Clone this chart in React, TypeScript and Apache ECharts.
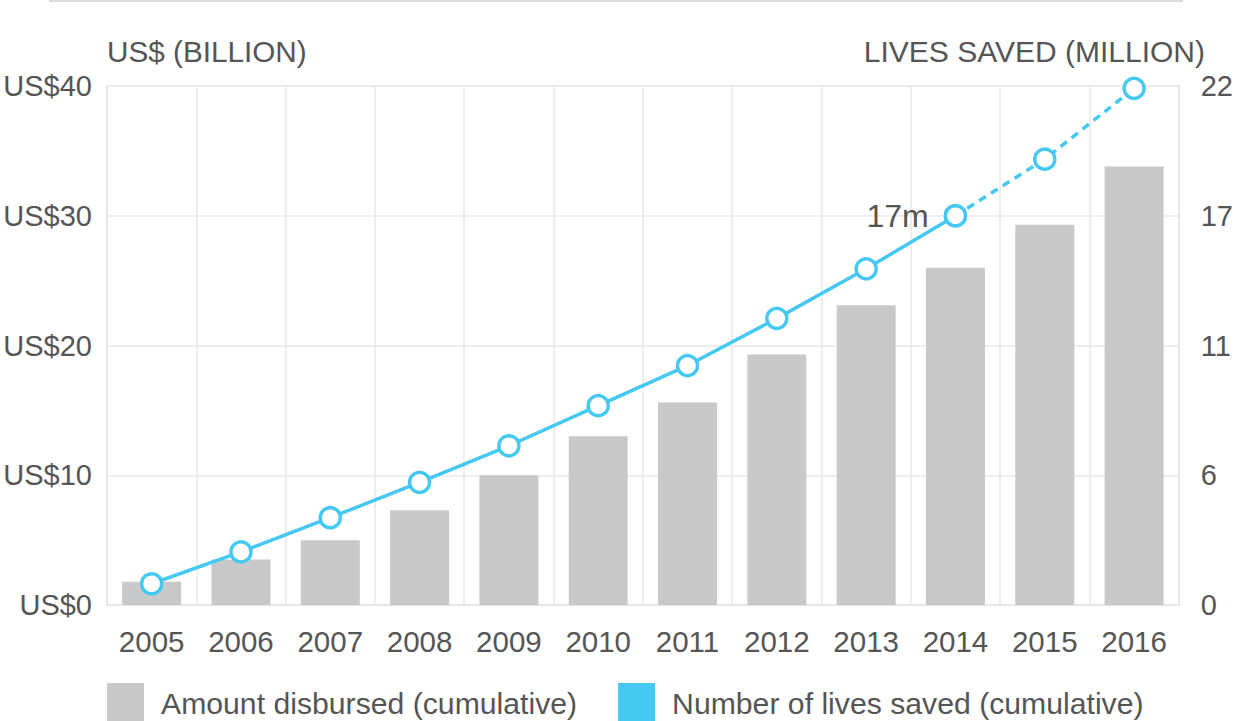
import React, { useEffect, useRef } from "react";
import * as echarts from "echarts";

const years = ["2005", "2006", "2007", "2008", "2009", "2010", "2011", "2012", "2013", "2014", "2015", "2016"];
const disbursed = [1.8, 3.5, 5.0, 7.3, 10.0, 13.0, 15.6, 19.3, 23.1, 26.0, 29.3, 33.8];
const livesActual = [0.9, 2.25, 3.7, 5.2, 6.75, 8.45, 10.15, 12.15, 14.25, 16.5, null, null];
const livesProjected = [null, null, null, null, null, null, null, null, null, 16.5, 18.9, 21.9];
const leftTicks = { min: 0, max: 40, interval: 10 };
const rightTicks = { min: 0, max: 22, interval: 5.5 };

const BLUE = "#45c8f1";
const GRAY = "#c8c9cb";
const TEXT = "#555555";
const FONT = "'Liberation Sans', Arial, Helvetica, sans-serif";

export default function App() {
  const ref = useRef<HTMLDivElement>(null);
  useEffect(() => {
    if (!ref.current) return;
    const chart = echarts.init(ref.current, null, { renderer: "svg" });
    chart.setOption({
      animation: false,
      textStyle: { fontFamily: FONT, color: TEXT },
      grid: { left: 107, right: 53, top: 86, bottom: 116, containLabel: false },
      graphic: [
        { type: "line", shape: { x1: 49, y1: 1, x2: 1183, y2: 1 }, style: { stroke: "#dcdcdc", lineWidth: 2 } },
        { type: "text", left: 107, top: 36, style: { text: "US$ (BILLION)", fontSize: 29.7, fill: TEXT, fontFamily: FONT } },
        { type: "text", right: 31, top: 36, style: { text: "LIVES SAVED (MILLION)", fontSize: 30, fill: TEXT, fontFamily: FONT, textAlign: "right" } },
      ],
      legend: {
        left: 107,
        top: 683,
        itemWidth: 37,
        itemHeight: 40,
        itemGap: 41,
        padding: 0,
        textStyle: { fontSize: 30.2, color: TEXT, fontFamily: FONT, padding: [0, 0, 0, 12] },
        data: [
          { name: "Amount disbursed (cumulative)", icon: "rect", itemStyle: { color: GRAY } },
          { name: "Number of lives saved (cumulative)", icon: "rect", itemStyle: { color: BLUE, borderWidth: 0 } },
        ],
      },
      xAxis: {
        type: "category",
        data: years,
        boundaryGap: true,
        axisLine: { show: true, lineStyle: { color: "#e6e6e6", width: 2 } },
        axisTick: { show: false },
        axisLabel: { fontSize: 29.5, color: TEXT, margin: 21, fontFamily: FONT },
        splitLine: { show: true, lineStyle: { color: "#e8e8e8", width: 1.5 } },
      },
      yAxis: [
        {
          type: "value",
          ...leftTicks,
          axisLine: { show: true, lineStyle: { color: "#e6e6e6", width: 2 } },
          axisTick: { show: false },
          axisLabel: { fontSize: 29, color: TEXT, margin: 15, fontFamily: FONT, formatter: (v: number) => "US$" + v },
          splitLine: { show: true, lineStyle: { color: "#e8e8e8", width: 1.5 } },
        },
        {
          type: "value",
          ...rightTicks,
          position: "right",
          axisLine: { show: true, lineStyle: { color: "#e6e6e6", width: 2 } },
          axisTick: { show: false },
          axisLabel: { fontSize: 29, color: TEXT, margin: 22, fontFamily: FONT, formatter: (v: number) => String(Math.round(v)) },
          splitLine: { show: false },
        },
      ],
      series: [
        {
          name: "Amount disbursed (cumulative)",
          type: "bar",
          data: disbursed,
          barWidth: 59,
          itemStyle: { color: GRAY },
          z: 1,
        },
        {
          name: "Number of lives saved (cumulative)",
          type: "line",
          yAxisIndex: 1,
          data: livesActual,
          symbol: "circle",
          symbolSize: 20,
          lineStyle: { color: BLUE, width: 3.5 },
          itemStyle: { color: "#ffffff", borderColor: BLUE, borderWidth: 3.5 },
          label: {
            show: true,
            position: "left",
            distance: 15,
            fontSize: 32,
            color: TEXT,
            fontFamily: FONT,
            formatter: (p: any) => (p.dataIndex === 9 ? "17m" : ""),
          },
          z: 3,
        },
        {
          name: "projected",
          type: "line",
          yAxisIndex: 1,
          data: livesProjected,
          symbol: "circle",
          symbolSize: 20,
          lineStyle: { color: BLUE, width: 3.5, type: [8, 6] },
          itemStyle: { color: "#ffffff", borderColor: BLUE, borderWidth: 3.5 },
          z: 2,
        },
      ],
    });
    return () => chart.dispose();
  }, []);
  return <div ref={ref} style={{ width: 1236, height: 721, position: "absolute", left: 0, top: 0, background: "#fff" }} />;
}
